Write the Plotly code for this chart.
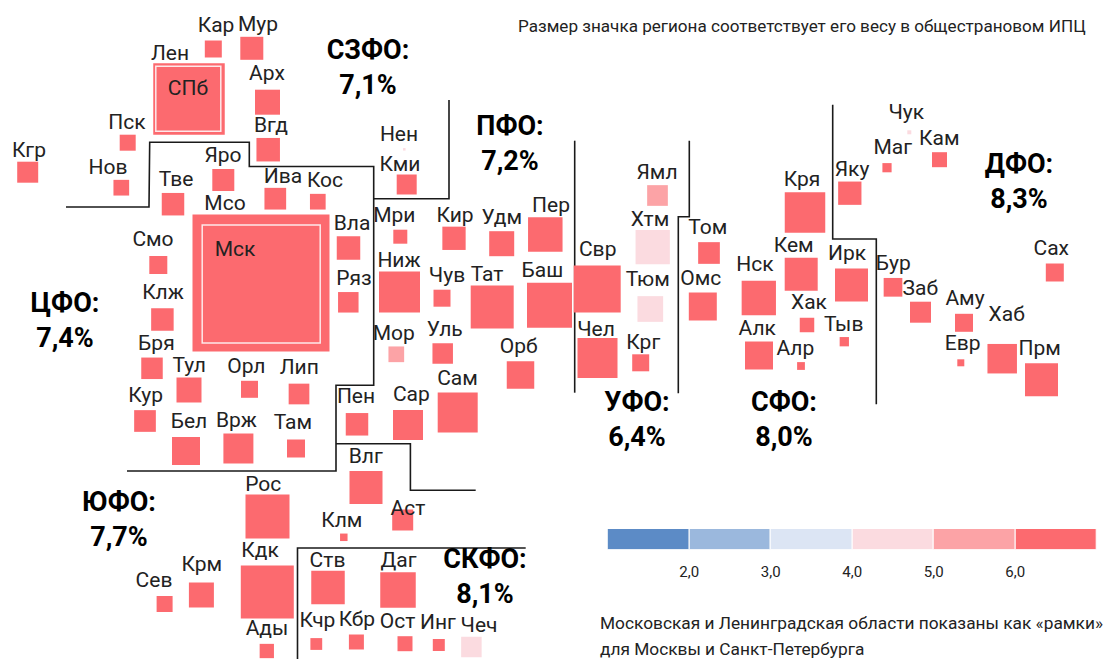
import plotly.graph_objects as go

# Regions (cartogram position, side = weight in CPI, value = inflation estimate)
regions = ["Лен","Мсо","Кар","Мур","Арх","Вгд","Пск","Нов","Кгр","Тве","Яро","Ива","Кос","Смо","Клж","Вла","Ряз",
           "Нен","Кми","Мри","Кир","Удм","Пер","Ниж","Чув","Тат","Баш","Мор","Уль","Орб",
           "Свр","Чел","Ямл","Хтм","Тюм","Крг","Том","Омс","Кря","Кем","Нск","Ирк","Хак","Алк","Алр","Тыв",
           "Яку","Маг","Чук","Кам","Сах","Бур","Заб","Аму","Хаб","Евр","Прм",
           "Бря","Тул","Орл","Лип","Кур","Бел","Врж","Там","Пен","Сар","Сам","Влг","Рос","Аст","Клм","Ств","Даг",
           "Кдк","Крм","Сев","Ады","Кчр","Кбр","Ост","Инг","Чеч"]
reg_x = [189,261,213.3,251.8,267.5,268.2,127.7,121.3,27.7,173,223.3,275.3,317.8,158.3,162.4,348.5,348.3,
         404.3,406.7,400.3,454,501.7,545.3,399.5,442,492.2,549.5,396.3,442.7,520.5,
         597.2,597.5,657.5,652.7,650.3,640.7,709,702.8,805,801.2,758.8,851.5,807,759,801,844.3,
         849.8,887,909.3,939.5,1054.8,893,920.5,964,1002.2,960.8,1041.5,
         152,189,249.5,299,145,186,238.4,296,357,408,457.7,366,267.5,402.7,343.8,328,398,
         267.3,201.4,164.6,266.8,316.3,356.4,405,438.8,471.4]
reg_y = [99,283,49,48.3,102.2,149.7,142.7,187.7,172.2,204.2,180,198.7,201.7,265,319.5,248,302.3,
         149.3,184.5,236.7,238.3,243.7,234.5,292,298.2,307,305.3,354.3,353.5,375,
         288.9,358,195.5,247.2,309,362.8,253,306.5,212.5,274.3,298,285,325,355.5,366,341.7,
         193.2,167.7,132.3,159.7,272.5,287.3,312.2,322.8,358.7,362.8,379.8,
         368.3,390,389.3,394,421,451,448.5,448.5,424.3,425,412.5,487.5,516.5,520,537.3,587.5,590,
         592,595,604,651,644,642,643.7,645,647]
reg_side = [71.5,137,17,23,25,23.5,16,15.7,21,22.5,22,21.7,15.7,18,22.5,23.5,20.5,
            2.5,20,14,23.3,25,34.5,41,17,43,45,15.7,20.5,27.5,
            47,40,20.7,34.3,25.7,17,21.7,28,40.5,33,34.3,33,14.5,28,7.8,9.3,
            23.3,9.2,4,15,18,18.7,21,18,29.5,7,33,
            21.5,25,17,20.7,21.7,28,30,18,22.5,30,40,33,44,21,7.5,33.5,35.5,
            53,25,16,14.3,11.8,15,15,12,20.5]
reg_value = [7.0,7.2,7.0,6.8,7.1,7.2,7.0,7.3,7.1,7.3,7.4,7.5,7.2,7.1,7.3,7.4,7.2,
             4.5,6.6,6.4,7.0,7.0,7.1,7.2,6.8,7.1,7.6,5.6,7.1,7.1,
             6.6,6.7,5.3,4.6,4.7,6.6,7.2,7.4,7.8,7.5,7.9,8.0,7.4,7.7,7.6,7.2,
             7.8,7.0,4.4,6.9,7.9,8.5,8.6,8.1,8.3,7.5,8.4,
             7.2,7.4,7.2,7.3,7.3,7.0,7.4,7.1,7.2,7.1,7.3,7.6,7.7,7.6,7.1,8.0,8.2,
             7.9,7.6,7.2,7.5,7.8,8.0,8.1,8.4,4.8]

# Frames for the two capitals
city_names = ["СПб","Мск"]
city_x = [188.3,261.2]
city_y = [98.7,284]
city_side = [65,118]
city_value = [7.1,7.5]

# Label positions
label_names = ["Лен","СПб","Мсо","Мск"]+regions[2:]
label_x = [170,188,225,235,216,258,267,271,127,108,29,176,223,283,325,153,163,352,354,
           399,400,394.3,455,501.7,551,399,447,487,542.3,393.7,444.7,518.7,
           597.7,596,657,650,647.7,643.3,707.7,700.7,802,793.7,755,847,809,757.3,795.3,843.7,
           852,892.7,906.3,939.3,1051.3,893.3,920.3,965,1006.7,962.7,1039.7,
           156.4,189.3,246.4,299.3,145.7,189,236.4,292.9,356,411.4,457.5,365.7,263.2,407.9,341.8,327.5,398.6,
           260,201.8,154,267,317.5,356.8,397.5,437.9,479]
label_y = [55,90,205,251,27,26,75,127,124,169,152,181,157,178,182,241,294,225,280,
           135.3,165.3,216.7,216.3,218.7,207,262,277,275.7,272,334.7,330.3,347.7,
           251,331,173.7,220.3,280.3,343.7,228.7,279.3,180.3,246.7,265.7,254.7,304,329.3,349.7,325.3,
           171,148.7,113.7,139.3,250,265,290,299.7,316,344.3,349.7,
           344.3,366.7,368,368.7,396.3,422.7,421.3,424,398,395.3,380,457.3,485.3,510,522,561.3,562,
           551.3,566,582,630,622,621,622.7,624,626.7]

# Federal districts
district_text = ["СЗФО:<br>7,1%","ЦФО:<br>7,4%","ПФО:<br>7,2%","УФО:<br>6,4%","СФО:<br>8,0%","ДФО:<br>8,3%","ЮФО:<br>7,7%","СКФО:<br>8,1%"]
district_x = [368,65,510,637,784,1019,119,485]
district_y = [70,323,146,422,422,184,522,579]

# Borders between districts
borders = [
    ([66,149,149.7,249.3,249.3,373.7,373.7,336,336,336,127],[207,207,142.3,142.3,166.5,166.5,385.3,385.3,443.7,471,471]),
    ([373.7,449,449],[198.7,198.7,100]),
    ([336,410.4,410.4,475.7],[443.7,443.7,490.3,490.3]),
    ([297.5,297.5,525.7],[659,548,548]),
    ([574.7,574.7],[140.7,392.7]),
    ([689.3,689.3,678.3,678.3],[140.7,216.7,216.7,393.3]),
    ([832.7,832.7,876.3,876.3],[104.7,239,239,404.3]),
]

# Legend scale
legend_bins = [1,2,3,4,5,6,7]
legend_colors = ["#5C8BC6","#9BB8DD","#DCE5F4","#FBDBE0","#FCA3A6","#FC6A6F"]
legend_ticks = [2,3,4,5,6]
legend_ticktext = ["2,0","3,0","4,0","5,0","6,0"]

title_text = "Размер значка региона соответствует его весу в общестрановом ИПЦ"
note_lines = ["Московская и Ленинградская области показаны как «рамки»","для Москвы и Санкт-Петербурга"]

W, H = 1107, 659
FONT = "Roboto"
TXT = "#222222"

def color_of(v):
    for lo, hi, c in zip(legend_bins[:-1], legend_bins[1:], legend_colors):
        if lo <= v < hi:
            return c
    return legend_colors[-1]

fig = go.Figure()

for bx, by in borders:
    fig.add_trace(go.Scatter(x=bx, y=by, mode="lines", line=dict(color="#1a1a1a", width=1.6, shape="linear"),
                             hoverinfo="skip", showlegend=False))

fig.add_trace(go.Scatter(x=reg_x, y=reg_y, mode="markers", text=regions, showlegend=False,
                         marker=dict(symbol="square", size=reg_side, opacity=1, color=[color_of(v) for v in reg_value], line=dict(width=0))))
fig.add_trace(go.Scatter(x=city_x, y=city_y, mode="markers", text=city_names, showlegend=False,
                         marker=dict(symbol="square", size=city_side, opacity=1, color=[color_of(v) for v in city_value],
                                     line=dict(width=1.5, color="#FDE8EA"))))

fig.add_trace(go.Scatter(x=label_x, y=label_y, mode="text", text=label_names, textposition="middle center",
                         textfont=dict(family=FONT, size=21, color=TXT), hoverinfo="skip", showlegend=False))
fig.add_trace(go.Scatter(x=district_x, y=district_y, mode="text", text=district_text, textposition="middle center",
                         textfont=dict(family=FONT, size=27, color="#000000", weight=700), hoverinfo="skip", showlegend=False))
fig.add_trace(go.Scatter(x=[518], y=[28], mode="text", text=[title_text], textposition="middle right",
                         textfont=dict(family=FONT, size=17.1, color=TXT), hoverinfo="skip", showlegend=False))
fig.add_trace(go.Scatter(x=[600,600], y=[625,651], mode="text", text=note_lines, textposition="middle right",
                         textfont=dict(family=FONT, size=17.3, color=TXT), hoverinfo="skip", showlegend=False))

# Legend as a small bar chart on its own axes
fig.add_trace(go.Bar(x=[(a+b)/2 for a, b in zip(legend_bins[:-1], legend_bins[1:])], y=[1]*6, width=1,
                     marker=dict(color=legend_colors, line=dict(color="white", width=1)),
                     xaxis="x2", yaxis="y2", hoverinfo="skip", showlegend=False))

fig.update_layout(
    width=W, height=H, autosize=False, margin=dict(l=0, r=0, t=0, b=0),
    paper_bgcolor="white", plot_bgcolor="rgba(0,0,0,0)", bargap=0,
    xaxis=dict(range=[0, W], domain=[0, 1], visible=False, fixedrange=True),
    yaxis=dict(range=[H, 0], domain=[0, 1], visible=False, fixedrange=True),
    xaxis2=dict(domain=[607.7/W, 1096.7/W], range=[1, 7], anchor="y2", tickmode="array", tickvals=legend_ticks,
                ticktext=legend_ticktext, showgrid=False, zeroline=False, showline=False, ticks="outside", ticklen=8,
                tickcolor="rgba(0,0,0,0)", tickfont=dict(family=FONT, size=15, color=TXT), fixedrange=True),
    yaxis2=dict(domain=[1-549.5/H, 1-529/H], range=[0, 1], anchor="x2", visible=False, fixedrange=True),
)

fig.write_html("out.html", config=dict(displayModeBar=False),
               post_script="document.body.style.margin='0';document.documentElement.style.overflow='hidden';")
